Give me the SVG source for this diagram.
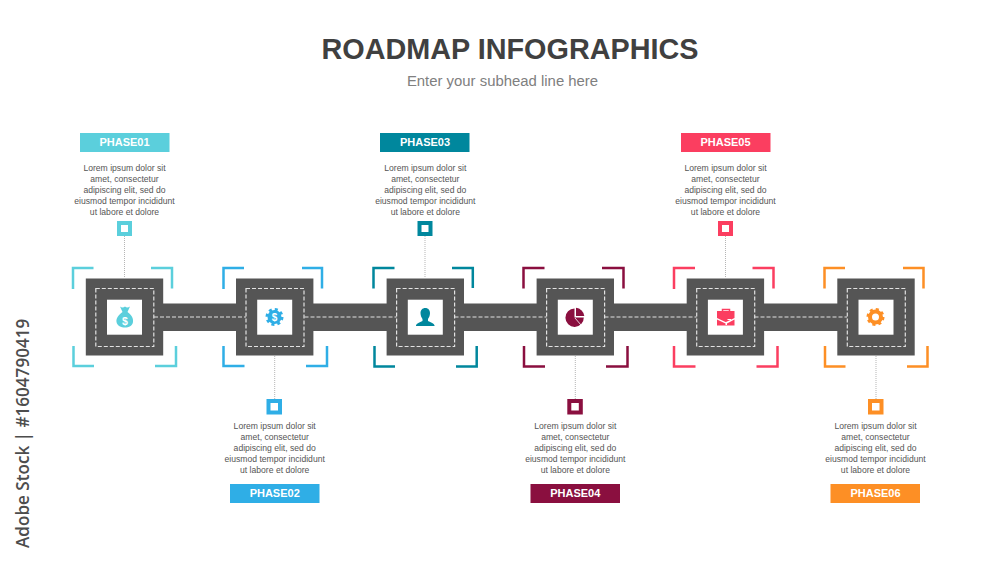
<svg xmlns="http://www.w3.org/2000/svg" width="1000" height="563" viewBox="0 0 1000 563">
<style>
text{font-family:"Liberation Sans",Arial,sans-serif}
.title{font-size:28.8px;font-weight:700;fill:#404040;text-anchor:middle}
.sub{font-size:14.900px;fill:#808080;text-anchor:middle}
.side{font-family:"Open Sans","DejaVu Sans",sans-serif;font-size:17.100px;font-weight:600;fill:#4d4d4d}
.lab{font-size:11px;font-weight:700;fill:#fff;text-anchor:middle}
.body{font-size:8.600px;fill:#555;text-anchor:middle}
.road{fill:#555}
.dash{fill:none;stroke:#e2e2e2;stroke-width:1.200;stroke-dasharray:4 2}
.dot{fill:none;stroke:#b5b5b5;stroke-width:1;stroke-dasharray:1 1}
.br{fill:none;stroke-width:2.500}
.sq{fill:#fff;stroke-width:4}
.c1{fill:#5bcfdc}.c2{fill:#2faee6}.c3{fill:#00879d}.c4{fill:#8a0f3f}.c5{fill:#fb3e60}.c6{fill:#fd8f25}
.s1{stroke:#5bcfdc}.s2{stroke:#2faee6}.s3{stroke:#00879d}.s4{stroke:#8a0f3f}.s5{stroke:#fb3e60}.s6{stroke:#fd8f25}
</style>
<defs>
<g id="base">
<rect class="road" x="-38.700" y="-38.500" width="77.400" height="77"/>
<rect class="dash" x="-28.700" y="-28.500" width="58" height="58"/>
<rect x="-17.500" y="-17.300" width="35" height="35" fill="#fff"/>
</g>
</defs>
<text class="title" x="510" y="59">ROADMAP INFOGRAPHICS</text>
<text class="sub" x="502.500" y="86">Enter your subhead line here</text>
<text class="side" transform="translate(29,548) rotate(-90)">Adobe Stock | #1604790419</text>

<g id="node1"><use href="#base" x="124.500" y="317"/>
<path class="br s1" d="M73 289V268H93.500M151 268H172V288.500M73.500 346V366H94M155 366H176V346"/>
<path class="c1" d="M120 306.500C121.500 307.800 123.500 307.800 125 306.500C126.500 307.800 128 307.800 130 306.500L127.500 312C132 315 133.500 319 133 322C132.300 326 129 327.500 125 327.500C121 327.500 117.300 326 116.500 322C116 319 118 315 122.500 312Z"/>
<text x="124.800" y="324.500" font-size="10.500" font-weight="700" fill="#fff" text-anchor="middle">$</text>
</g>
<g id="node2"><use href="#base" x="274.700" y="317"/>
<path class="br s2" d="M223.500 289V268H244M302 268H322V288.500M223.500 346V366H244.500M306 366H327V346"/>
<circle class="c2" cx="274.500" cy="317" r="7"/>
<circle cx="274.500" cy="317" r="7.500" fill="none" stroke="#2faee6" stroke-width="3" stroke-dasharray="2.950 2.950"/>
<text x="274.500" y="320.500" font-size="10" font-weight="700" fill="#fff" text-anchor="middle">$</text>
</g>
<g id="node3"><use href="#base" x="425.300" y="317"/>
<path class="br s3" d="M373.500 288.500V268H394.500M452 268H472.800V288M374.500 346V366.500H395M456 366.500H476.700V346"/>
<path class="c3" d="M425.300 308C428.300 308 430 310.200 430 313C430 315.500 429 317.500 428 319V321C431 322.500 434 323.200 434.500 325.300V326H416V325.300C416.500 323.200 419.500 322.500 422.500 321V319C421.500 317.500 420.500 315.500 420.500 313C420.500 310.200 422.300 308 425.300 308Z"/>
</g>
<g id="node4"><use href="#base" x="575.300" y="317"/>
<path class="br s4" d="M523.500 288.500V268H544.500M602 268H623.500V288.500M524 346V366.500H545M606 366.500H627.500V346"/>
<path class="c4" d="M574.500 308.500V317.500H583.800A9.200 9.200 0 1 1 574.500 308.500Z"/>
<path class="c4" d="M576 307.800A9.200 9.200 0 0 1 584.300 316H576Z"/>
<path d="M575 318L581 325" stroke="#fff" stroke-width="0.800" fill="none"/>
</g>
<g id="node5"><use href="#base" x="725.400" y="317"/>
<path class="br s5" d="M674 289V268H695M752.500 268H773.500V288.500M674 346V366.500H695.500M756.500 366.500H777.500V346"/>
<path class="c5" d="M717 311H734.500V318L726 322H725.500L717 318Z"/>
<path class="c5" d="M717 319.500L725.500 323.500V325H727V323.500L734.500 319.500V325.500H717Z"/>
<path d="M722.500 311V309.500H729.500V311" fill="none" stroke="#fb3e60" stroke-width="1.500"/>
<path d="M727.500 319.500H731" stroke="#fff" stroke-width="1" fill="none"/>
</g>
<g id="node6"><use href="#base" x="876" y="317"/>
<path class="br s6" d="M824.500 288.500V268H845M903 268H923.500V288.500M825 346V366.500H845.500M907 366.500H927.500V346"/>
<circle cx="875.500" cy="317" r="5.500" fill="none" stroke="#fd8f25" stroke-width="4"/>
<circle cx="875.500" cy="317" r="7.300" fill="none" stroke="#fd8f25" stroke-width="3.400" stroke-dasharray="2.870 2.870"/>
</g>

<g id="connectors">
<path class="road" d="M163 303.500H236V331H163ZM313 303.500H387V331H313ZM464 303.500H537V331H464ZM614 303.500H687V331H614ZM764 303.500H838V331H764Z"/>
<path class="dash" d="M154 317H246M304.500 317H396.500M454.500 317H546.500M604.500 317H696.500M754.500 317H847"/>
<path class="dot" d="M124.500 236V278M425 236V278M725.500 236V278M274.700 356V399M575.300 356V399M876 356V399"/>
</g>

<g id="phase01">
<rect class="c1" x="80" y="133" width="89.500" height="19"/>
<text class="lab" x="124.500" y="146">PHASE01</text>
<text class="body"><tspan x="124.500" y="171">Lorem ipsum dolor sit</tspan><tspan x="124.500" y="182">amet, consectetur</tspan><tspan x="124.500" y="193">adipiscing elit, sed do</tspan><tspan x="124.500" y="204">eiusmod tempor incididunt</tspan><tspan x="124.500" y="215">ut labore et dolore</tspan></text>
<rect class="sq s1" x="119" y="223" width="11" height="11"/>
</g>
<g id="phase02">
<rect class="c2" x="230" y="484" width="89.500" height="19"/>
<text class="lab" x="274.700" y="497">PHASE02</text>
<text class="body"><tspan x="274.700" y="428.500">Lorem ipsum dolor sit</tspan><tspan x="274.700" y="439.500">amet, consectetur</tspan><tspan x="274.700" y="450.500">adipiscing elit, sed do</tspan><tspan x="274.700" y="461.500">eiusmod tempor incididunt</tspan><tspan x="274.700" y="472.500">ut labore et dolore</tspan></text>
<rect class="sq s2" x="268.500" y="401" width="11.500" height="11.500"/>
</g>
<g id="phase03">
<rect class="c3" x="380" y="133" width="89.500" height="19"/>
<text class="lab" x="425" y="146">PHASE03</text>
<text class="body"><tspan x="425.300" y="171">Lorem ipsum dolor sit</tspan><tspan x="425.300" y="182">amet, consectetur</tspan><tspan x="425.300" y="193">adipiscing elit, sed do</tspan><tspan x="425.300" y="204">eiusmod tempor incididunt</tspan><tspan x="425.300" y="215">ut labore et dolore</tspan></text>
<rect class="sq s3" x="419.500" y="223" width="11" height="11"/>
</g>
<g id="phase04">
<rect class="c4" x="530.500" y="484" width="89.500" height="19"/>
<text class="lab" x="575.300" y="497">PHASE04</text>
<text class="body"><tspan x="575.300" y="428.500">Lorem ipsum dolor sit</tspan><tspan x="575.300" y="439.500">amet, consectetur</tspan><tspan x="575.300" y="450.500">adipiscing elit, sed do</tspan><tspan x="575.300" y="461.500">eiusmod tempor incididunt</tspan><tspan x="575.300" y="472.500">ut labore et dolore</tspan></text>
<rect class="sq s4" x="569.300" y="401" width="11.500" height="11.500"/>
</g>
<g id="phase05">
<rect class="c5" x="681" y="133" width="89.500" height="19"/>
<text class="lab" x="725.500" y="146">PHASE05</text>
<text class="body"><tspan x="725.500" y="171">Lorem ipsum dolor sit</tspan><tspan x="725.500" y="182">amet, consectetur</tspan><tspan x="725.500" y="193">adipiscing elit, sed do</tspan><tspan x="725.500" y="204">eiusmod tempor incididunt</tspan><tspan x="725.500" y="215">ut labore et dolore</tspan></text>
<rect class="sq s5" x="720" y="223" width="11" height="11"/>
</g>
<g id="phase06">
<rect class="c6" x="830.500" y="484" width="89.500" height="19"/>
<text class="lab" x="875.500" y="497">PHASE06</text>
<text class="body"><tspan x="875.500" y="428.500">Lorem ipsum dolor sit</tspan><tspan x="875.500" y="439.500">amet, consectetur</tspan><tspan x="875.500" y="450.500">adipiscing elit, sed do</tspan><tspan x="875.500" y="461.500">eiusmod tempor incididunt</tspan><tspan x="875.500" y="472.500">ut labore et dolore</tspan></text>
<rect class="sq s6" x="870" y="401" width="11.500" height="11.500"/>
</g>
</svg>
